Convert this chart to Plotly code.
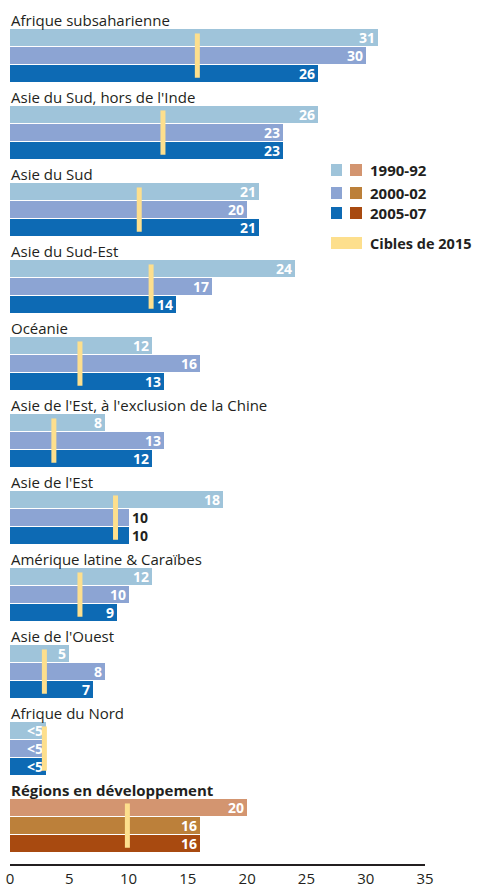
import plotly.graph_objects as go

regions = ["Afrique subsaharienne", "Asie du Sud, hors de l'Inde", "Asie du Sud",
           "Asie du Sud-Est", "Océanie", "Asie de l'Est, à l'exclusion de la Chine",
           "Asie de l'Est", "Amérique latine & Caraïbes", "Asie de l'Ouest",
           "Afrique du Nord", "Régions en développement"]
v1990 = [31, 26, 21, 24, 12, 8, 18, 12, 5, 3, 20]
v2000 = [30, 23, 20, 17, 16, 13, 10, 10, 8, 3, 16]
v2005 = [26, 23, 21, 14, 13, 12, 10, 9, 7, 3, 16]
t1990 = ["31", "26", "21", "24", "12", "8", "18", "12", "5", "<5", "20"]
t2000 = ["30", "23", "20", "17", "16", "13", "10", "10", "8", "<5", "16"]
t2005 = ["26", "23", "21", "14", "13", "12", "10", "9", "7", "<5", "16"]
targets = [15.8, 12.9, 10.9, 11.9, 5.9, 3.7, 8.9, 5.9, 2.9, 2.9, 9.9]
outside_2000 = [False]*6 + [True] + [False]*4
outside_2005 = [False]*6 + [True] + [False]*4
periods = ["1990-92", "2000-02", "2005-07"]
legend_target = "Cibles de 2015"
xticks = [0, 5, 10, 15, 20, 25, 30, 35]

BLUES = ["#9fc4da", "#8ca4d3", "#0d6ab4"]
BROWNS = ["#d39570", "#bc803a", "#a84a10"]
YELLOW = "#fddf8d"
INK = "#231f20"
FONT = "Open Sans"

W, H = 484, 889
PLOT_L, PLOT_R, PLOT_T, PLOT_B = 10, 425, 0, 864   # plot area in page pixels
ML, MR, MT, MB = PLOT_L, W - PLOT_R, PLOT_T, H - PLOT_B

GROUP_PITCH = 77
BAR_PITCH = 18
BAR_W = 16.5
FIRST_BAR = 37.5

n = len(regions)
series = [v1990, v2000, v2005]
texts = [t1990, t2000, t2005]
outs = [[False]*n, outside_2000, outside_2005]

fig = go.Figure()
for k in range(3):
    ys = [FIRST_BAR + g*GROUP_PITCH + k*BAR_PITCH for g in range(n)]
    colors = [BROWNS[k] if g == n-1 else BLUES[k] for g in range(n)]
    tpos = ["outside" if outs[k][g] else "inside" for g in range(n)]
    tcol = [INK if outs[k][g] else "white" for g in range(n)]
    fig.add_trace(go.Bar(
        x=series[k], y=ys, orientation="h", width=BAR_W,
        marker=dict(color=colors, line=dict(width=0)),
        text=texts[k], textposition=tpos, insidetextanchor="end", textangle=0,
        textfont=dict(family=FONT, size=14, color=tcol, weight="bold"),
        cliponaxis=False, showlegend=False, hoverinfo="skip",
    ))

tx, ty = [], []
for g in range(n):
    top = FIRST_BAR - BAR_W/2 + g*GROUP_PITCH
    tx += [targets[g], targets[g], None]
    ty += [top + 4.2, top + 48.5, None]
fig.add_trace(go.Scatter(x=tx, y=ty, mode="lines", line=dict(color=YELLOW, width=5),
                         showlegend=False, hoverinfo="skip"))

ann = []
for g, r in enumerate(regions):
    ann.append(dict(x=0, y=FIRST_BAR - BAR_W/2 + g*GROUP_PITCH - 9.5, xref="x", yref="y",
                    text=("<b>%s</b>" % r) if g == n-1 else r, showarrow=False,
                    xanchor="left", yanchor="middle", xshift=-1,
                    font=dict(family=FONT, size=15, color=INK)))

def px(xp):
    return (xp - PLOT_L) / (PLOT_R - PLOT_L)

def py(yp):
    return (PLOT_B - yp) / (PLOT_B - PLOT_T)

shapes = []
row_y = [170, 193, 213]
for i, p in enumerate(periods):
    yc = row_y[i]
    shapes.append(dict(type="rect", xref="paper", yref="paper", x0=px(331), x1=px(342),
                       y0=py(yc+6), y1=py(yc-6), fillcolor=BLUES[i], line=dict(width=0)))
    shapes.append(dict(type="rect", xref="paper", yref="paper", x0=px(350), x1=px(362),
                       y0=py(yc+6), y1=py(yc-6), fillcolor=BROWNS[i], line=dict(width=0)))
    ann.append(dict(x=px(368), y=py(yc), xref="paper", yref="paper", text="<b>%s</b>" % p,
                    showarrow=False, xanchor="left", yanchor="middle",
                    font=dict(family=FONT, size=15, color=INK)))
shapes.append(dict(type="rect", xref="paper", yref="paper", x0=px(331), x1=px(362),
                   y0=py(249), y1=py(237), fillcolor=YELLOW, line=dict(width=0)))
ann.append(dict(x=px(368), y=py(243), xref="paper", yref="paper", text="<b>%s</b>" % legend_target,
                showarrow=False, xanchor="left", yanchor="middle",
                font=dict(family=FONT, size=14.5, color=INK)))

fig.update_layout(
    width=W, height=H, margin=dict(l=ML, r=MR, t=MT, b=MB, pad=0, autoexpand=False),
    paper_bgcolor="white", plot_bgcolor="white",
    barmode="overlay", bargap=0,
    xaxis=dict(range=[0, 35], tickvals=xticks, ticks="", showgrid=False, zeroline=False,
               showline=True, linecolor=INK, linewidth=1.5, automargin=False,
               ticklabeloverflow="allow",
               tickfont=dict(family=FONT, size=15, color=INK), fixedrange=True),
    yaxis=dict(range=[PLOT_B, PLOT_T], visible=False, fixedrange=True),
    annotations=ann, shapes=shapes, showlegend=False,
    uniformtext=dict(minsize=14, mode="show"),
)
fig.write_html("out.html", config={"displayModeBar": False},
               post_script="document.body.style.margin='0';document.body.style.overflow='hidden';")
